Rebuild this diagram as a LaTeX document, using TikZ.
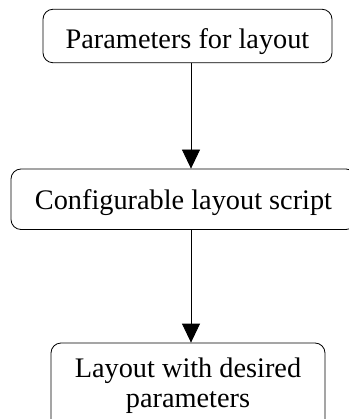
\documentclass[tikz,border=0pt]{standalone}
\usepackage{fontspec}
\setmainfont{Liberation Serif}
\usetikzlibrary{arrows.meta}
\begin{document}
\begin{tikzpicture}[x=1pt,y=-1pt,
  stagebox/.style={draw, line width=0.8pt, rounded corners=10pt, inner sep=0pt,
    font=\fontsize{28.3}{30}\selectfont, align=center},
  flow/.style={draw, line width=0.8pt, -{Triangle[width=18pt,length=19pt]}}]
  \useasboundingbox (0,0) rectangle (348,419);
  \node[stagebox, minimum width=289pt, minimum height=53.5pt,
        text height=24.6pt, text depth=0pt] (params) at (187.5,36) {Parameters for layout};
  \node[stagebox, minimum width=345pt, minimum height=60.5pt,
        text height=21.5pt, text depth=0pt] (script) at (183.5,199.25) {Configurable layout script};
  \node[stagebox, minimum width=274pt, minimum height=86pt] (result) at (188,386) {Layout with desired\\parameters};
  \coordinate (axis) at (191,0);
  \draw[flow] (params.south -| axis) -- (script.north -| axis);
  \draw[flow] (script.south -| axis) -- (result.north -| axis);
\end{tikzpicture}
\end{document}
